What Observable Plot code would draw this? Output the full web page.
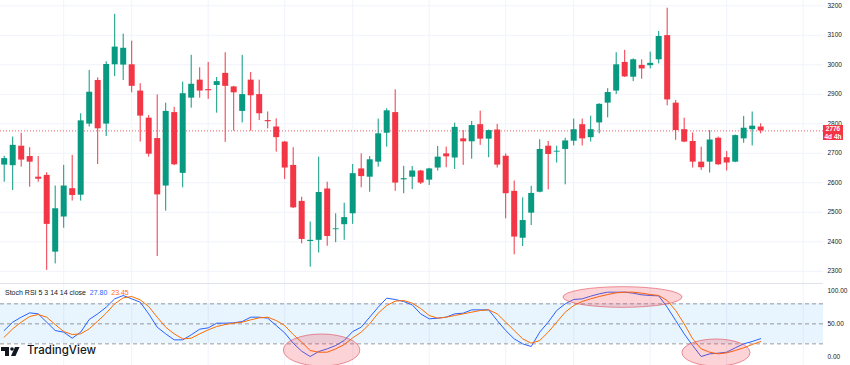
<!DOCTYPE html>
<html><head><meta charset="utf-8">
<script src="https://cdn.jsdelivr.net/npm/d3@7"></script>
<script src="https://cdn.jsdelivr.net/npm/@observablehq/plot@0.6"></script>
<style>
body{margin:0;background:#fff;}
#wrap{position:relative;width:850px;height:365px;overflow:hidden;background:#fff;font-family:"Liberation Sans",Arial,sans-serif;}
#wrap svg{position:absolute;left:0;}
#sep{position:absolute;left:0;top:283px;width:823px;height:1px;background:#e0e3eb;}
#legend{position:absolute;left:5px;top:288px;font-size:7px;line-height:9px;color:#131722;white-space:pre;}
#tag{position:absolute;left:823px;width:20px;height:15px;background:#F23645;color:#fff;font-size:6.5px;font-weight:bold;line-height:7.5px;text-align:center;}
#logo{position:absolute;left:6px;top:344px;width:100px;height:16px;}
#logotext{position:absolute;left:27px;top:343px;font-family:Inter,"Liberation Sans",sans-serif;font-size:11.5px;font-weight:500;color:#131722;line-height:14px;}
</style></head><body><div id="wrap"></div>
<script>
// ---- data ----
const opens  = [2660,2658,2724,2689,2619,2625,2365,2484,2580,2558,2799,2947,2799,3000,2999,3000,2911,2819,2750,2589,
                2838,2632,2887,2948,2916,2930,2971,2925,2842,2948,2899,2811,2789,2738,2659,2537,2401,2405,2579,2441,
                2458,2495,2647,2619,2670,2768,2838,2610,2619,2640,2609,2650,2698,2684,2749,2739,2797,2748,2779,2690,
                2571,2412,2497,2568,2724,2704,2713,2741,2797,2753,2803,2870,2911,3008,2958,2998,2997,3017,3099,2870,
                2780,2740,2670,2670,2751,2685,2670,2749,2780,2789];
const highs  = [2690,2755,2768,2719,2689,2634,2589,2659,2693,2834,2981,2956,3010,3171,3104,3080,2936,2828,2898,2870,
                2856,2941,3032,2990,3008,2957,3041,2927,3032,2974,2948,2840,2817,2740,2719,2551,2467,2687,2602,2495,
                2531,2662,2698,2689,2816,2851,2915,2656,2655,2642,2649,2723,2721,2802,2777,2808,2843,2779,2798,2698,
                2606,2549,2588,2746,2740,2724,2751,2816,2816,2826,2868,2919,3041,3049,3020,3017,3043,3113,3192,2879,
                2819,2769,2721,2777,2755,2706,2762,2825,2840,2800];
const lows   = [2602,2574,2653,2585,2602,2303,2325,2446,2538,2538,2789,2662,2757,2960,2947,2905,2738,2687,2350,2504,
                2658,2583,2853,2887,2883,2836,2737,2775,2803,2775,2811,2783,2704,2611,2513,2393,2314,2362,2385,2397,
                2405,2459,2583,2568,2653,2721,2571,2563,2577,2594,2591,2640,2651,2645,2659,2680,2727,2685,2650,2478,
                2356,2384,2455,2566,2576,2667,2593,2725,2725,2738,2766,2820,2899,2957,2943,2951,2986,3003,2861,2744,
                2736,2650,2642,2633,2659,2640,2668,2734,2725,2766];
const closes = [2682,2727,2677,2670,2612,2459,2512,2589,2557,2810,2907,2783,3001,3060,3056,2927,2826,2697,2559,2842,
                2661,2902,2934,2911,2912,2943,2927,2905,2899,2895,2834,2807,2753,2650,2515,2408,2405,2567,2418,2444,
                2482,2631,2621,2678,2766,2844,2599,2614,2640,2599,2647,2687,2688,2788,2739,2794,2748,2777,2660,2563,
                2416,2472,2564,2713,2696,2707,2742,2780,2749,2780,2866,2906,3000,2959,3017,2986,3005,3096,2881,2777,
                2738,2670,2651,2745,2661,2667,2760,2785,2792,2776];
const stochK = [40,52.5,60,66.5,65,52.5,40,37.5,28.5,37.5,56.5,65,75,87.5,92.5,87.5,82.5,65,45,35,
                26,26,33.5,42,44,51,51,51.5,53.5,60,60,58.5,47.5,36.5,21,9,1,8.5,12.5,17.5,
                25,38.5,45,60,75,88.5,86.5,83.5,78.5,65,57.5,58.5,60,65,66,71,71,71,55,40,
                27.5,20,16,37.5,52.5,70,80,86.5,87.5,91.5,95,97.5,97.5,97.5,96,93.5,92.5,92,75,55,
                35,17.5,1,5,6,7.5,14,20,23.5,27.8];
const stochD = [30,42.5,52.5,61,64,60,49,38.5,34,35,42.5,54,66,80,89,91,86,76,60,45,
                35,27.5,28.5,35,41,46,49,51,52.5,56,59,60,55,47.5,34,22.5,10,7.5,7.5,12.5,
                19,29,37.5,50,66,77.5,84,85,81,73,62.5,58.5,60,62.5,65,67.5,70,71,65,52.5,
                40,27.5,21,25,37.5,52.5,67.5,77.5,83.5,87.5,91,94,96.5,97.5,97.5,96,94,92.5,85,70,
                50,27.5,12.5,7.5,5,6.5,10,14,19,23.45];
const gridIdx    = [7,15,24,33,41,50,59,67,76,85,94];
const priceTicks = [2300,2400,2500,2600,2700,2800,2900,3000,3100,3200];
const rsiTicks   = [0,50,100];
const rsiLevels  = [20,50,80];
const countdown  = "4d 4h";
const legendName = "Stoch RSI 5 3 14 14 close";
// highlighted regions on the indicator pane (candle index range, indicator value range)
const highlights = [
  {i1:32.9, i2:41.9, v1:-14, v2:34},
  {i1:65.8, i2:79.8, v1:74,  v2:105},
  {i1:79.8, i2:87.8, v1:-14, v2:26.5}
];

// ---- build tables ----
const UP = "#089981", DOWN = "#F23645";
const candles = opens.map((o, i) => ({i, open:o, high:highs[i], low:lows[i], close:closes[i],
  col: closes[i] >= o ? UP : DOWN}));
const rsiData = stochK.map((k, i) => ({i, k, d: stochD[i]}));
const last = candles[candles.length - 1];

const W = 850, MR = 27;
const xScale = {domain:[-0.435, 96.39], axis:null};
const baseStyle = {fontSize:"6.5px", fontFamily:"'Liberation Sans',Arial,sans-serif", color:"#131722", background:"transparent", overflow:"visible"};

const price = Plot.plot({
  width:W, height:283, marginLeft:0, marginRight:MR, marginTop:0, marginBottom:0,
  x: xScale,
  y: {domain:[2258.6, 3218], axis:"right", ticks:priceTicks, tickSize:0, tickPadding:4, tickFormat:d => String(d), label:null},
  color: {type:"identity"},
  style: baseStyle,
  marks: [
    Plot.ruleY(priceTicks, {stroke:"#f0f3fa"}),
    Plot.ruleX(gridIdx, {stroke:"#f0f3fa"}),
    Plot.ruleY([last.close], {stroke:"#F23645", strokeOpacity:0.8, strokeDasharray:"1,2"}),
    Plot.ruleX(candles, {x:"i", y1:"low", y2:"high", stroke:"col", strokeWidth:1}),
    Plot.ruleX(candles, {x:"i", y1:"open", y2:"close", stroke:"col", strokeWidth:6})
  ]
});
price.style.top = "0px";

const rsi = Plot.plot({
  width:W, height:82, marginLeft:0, marginRight:MR, marginTop:0, marginBottom:0,
  x: xScale,
  y: {domain:[-12.45, 110.5], axis:"right", ticks:rsiTicks, tickSize:0, tickPadding:4, tickFormat:d => d.toFixed(2), label:null},
  style: baseStyle,
  marks: [
    Plot.ruleX(gridIdx, {stroke:"#f0f3fa"}),
    Plot.rect([rsiLevels], {y1: d => d[0], y2: d => d[2], fill:"#2196F3", fillOpacity:0.1}),
    Plot.ruleY(rsiLevels, {stroke:"#787B86", strokeOpacity:0.75, strokeDasharray:"4,3"}),
    Plot.line(rsiData, {x:"i", y:"k", stroke:"#2962FF", strokeWidth:1}),
    Plot.line(rsiData, {x:"i", y:"d", stroke:"#FF6D00", strokeWidth:1}),
    Plot.rect(highlights, {x1:"i1", x2:"i2", y1:"v1", y2:"v2", rx:300, ry:300,
      fill:"#F23645", fillOpacity:0.22, stroke:"#E04A57", strokeOpacity:0.6, strokeWidth:1})
  ]
});
rsi.style.top = "283px";

const wrap = document.getElementById("wrap");
wrap.appendChild(price);
wrap.appendChild(rsi);

const sep = document.createElement("div"); sep.id = "sep"; wrap.appendChild(sep);

const legend = document.createElement("div"); legend.id = "legend";
legend.innerHTML = `${legendName}  <span style="color:#2962FF">${stochK[stochK.length-1].toFixed(2)}</span>  <span style="color:#FF6D00">${stochD[stochD.length-1].toFixed(2)}</span>`;
wrap.appendChild(legend);

const tag = document.createElement("div"); tag.id = "tag";
const ty = price.scale("y").apply(last.close);
tag.style.top = (ty - 5) + "px";
tag.innerHTML = `${last.close}<br>${countdown}`;
wrap.appendChild(tag);

const logo = document.createElementNS("http://www.w3.org/2000/svg","svg");
logo.setAttribute("id","logo");
logo.innerHTML = '<path d="M1 3h8v9H5V7H1z" fill="#131722"/><circle cx="12" cy="5" r="1.8" fill="#131722"/><path d="M15 3h4.5l-4 9H11z" fill="#131722"/>';
wrap.appendChild(logo);
const lt = document.createElement("div"); lt.id = "logotext"; lt.textContent = "TradingView"; wrap.appendChild(lt);
</script></body></html>
